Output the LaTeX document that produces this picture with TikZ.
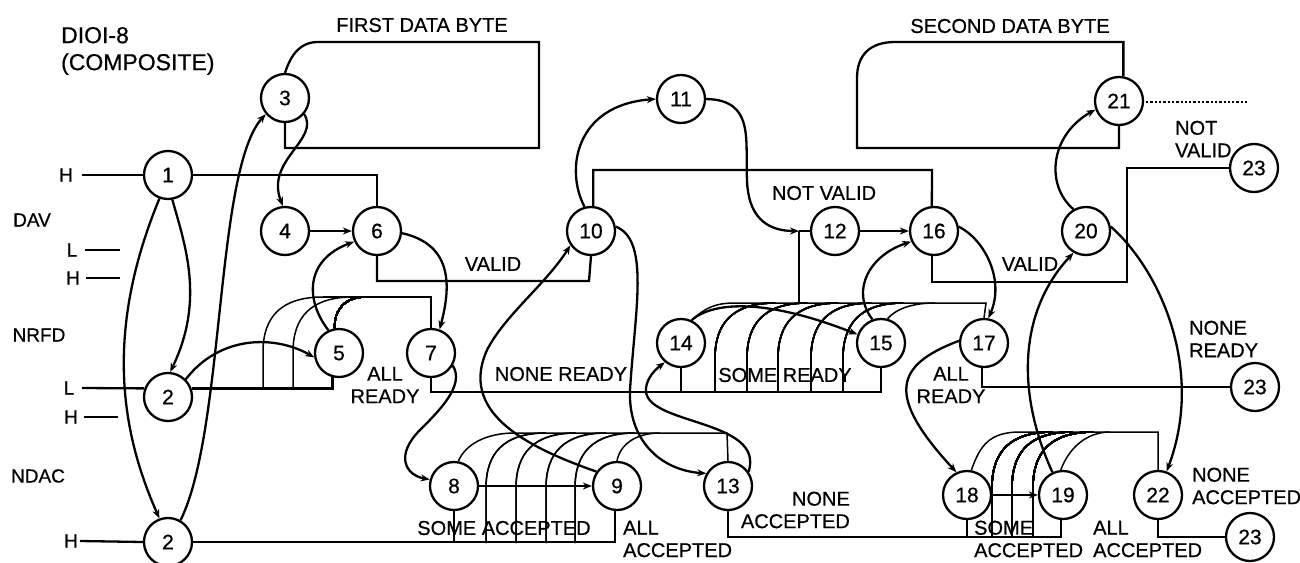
\documentclass[tikz,border=0pt]{standalone}
\usepackage{fontspec}
\setmainfont[RawFeature={embolden=0.6}]{Liberation Sans}
\usetikzlibrary{arrows.meta}

\begin{document}
\begin{tikzpicture}[x=1pt, y=-1pt, line width=2.3pt, >={Stealth[length=9pt,width=7pt]},
      st/.style={draw, circle, fill=white, minimum size=48pt, inner sep=0pt, font=\fontsize{21}{23}\selectfont},
      lbl/.style={inner sep=0pt, align=center, font=\fontsize{20}{22.5}\selectfont},
      lft/.style={lbl, anchor=west, align=left},
      sig/.style={lbl, font=\fontsize{19}{21}\selectfont},
      fan/.style={line width=1.5pt}]

    \useasboundingbox (0,0) rectangle (1300,562);

    % State circles
    \node[st] (s1)  at (168, 175) {1};
    \node[st] (s2)  at (168, 397) {2};
    \node[st] (s2b) at (168, 542) {2};
    \node[st] (s3)  at (285, 98)  {3};
    \node[st] (s4)  at (285, 231) {4};
    \node[st] (s5)  at (339, 353) {5};
    \node[st] (s6)  at (377, 231) {6};
    \node[st] (s7)  at (431, 353) {7};
    \node[st] (s8)  at (454, 486) {8};
    \node[st] (s9)  at (617, 486) {9};
    \node[st] (s10) at (591, 231) {10};
    \node[st] (s11) at (681, 99)  {11};
    \node[st] (s12) at (835, 231) {12};
    \node[st] (s13) at (728, 486) {13};
    \node[st] (s14) at (681, 343) {14};
    \node[st] (s15) at (881, 343) {15};
    \node[st] (s16) at (934, 231) {16};
    \node[st] (s17) at (984, 343) {17};
    \node[st] (s18) at (967, 495) {18};
    \node[st] (s19) at (1063, 495) {19};
    \node[st] (s20) at (1086, 231) {20};
    \node[st] (s21) at (1119, 101) {21};
    \node[st] (s22) at (1158, 495) {22};
    \node[st] (t23a) at (1254, 168) {23};
    \node[st] (t23b) at (1255, 387) {23};
    \node[st] (t23c) at (1250, 537) {23};

    % Bus rows
    \coordinate (rowb) at (0, 392);
    \coordinate (rowd) at (0, 543);
    \coordinate (rowe) at (0, 303);
    \coordinate (rowg) at (0, 537);
    \coordinate (jn12) at (799, 231);

    % Signal levels
    \node[sig] (txdav)  at (32, 220)  {DAV};
    \node[sig] (txnrfd) at (39, 335)  {NRFD};
    \node[sig] (txndac) at (38, 476)  {NDAC};
    \node[sig] (lv1) at (66, 175) {H};
    \node[sig] (lv2) at (72, 250) {L};
    \node[sig] (lv3) at (73, 278) {H};
    \node[sig] (lv4) at (69, 388) {L};
    \node[sig] (lv5) at (71, 417) {H};
    \node[sig] (lv6) at (71, 541) {H};
    \coordinate (lv2e) at (120, 250);
    \coordinate (lv3e) at (120, 278);
    \coordinate (lv5e) at (118, 417);
    \draw (lv1) ++(16,0) -- (s1.west);
    \draw (lv2) ++(13,0) -- (lv2e);
    \draw (lv3) ++(13,0) -- (lv3e);
    \draw (lv4) ++(13,0) -- (s2.160);
    \draw (lv5) ++(13,0) -- (lv5e);
    \draw (lv6) ++(9,0) -- (s2b.west);

    % Signal lines
    \draw (s1.east) -| (s6.north);
    \draw (s3.north) .. controls (290,58) and (298,42) .. (318,42) -- (539,42) -- (539,148) -- (s3.south |- 0,148) -- (s3.south);
    \draw (s6.south) |- (589,281) -- (s10.270);
    \draw (s10.85) |- (932,170) -- (s16.95);
    \draw (s16.265) |- (1127,282) |- (t23a.west);
    \draw (s21.80) |- (895,42) .. controls (870,42) and (857,55) .. (857,78) -- (857,148) -| (s21.270);
    \draw[dotted, line cap=butt] (s21.east) ++(2,1) -- ++(102,0);
    \draw (s17.265) |- (t23b.west);
    \draw (s22.south) |- (t23c.west);
    \draw (s2.20) -| (s5.255);
    \draw (s7.south) |- (s15.south |- rowb) -- (s15.south);
    \draw (s2b.east) -| (s9.265);
    \draw (s13.south) |- (s19.265 |- rowg) -- (s19.265);

    % Fan macro: #1=x, #2=lower row, #3=upper row
    \newcommand{\fanline}[3]{%
        \draw[fan] (#1,#2) -- (#1,#3+55) .. controls (#1,#3+20) and (#1+18,#3) .. (#1+60,#3);
    }
    \foreach \fx in {263,293} \fanline{\fx}{389}{297}
    \foreach \fx in {486,516,546,575} \fanline{\fx}{543}{433}
    \foreach \fx in {715,747,778,811,843} \fanline{\fx}{392}{303}
    \foreach \fx in {992,1012,1033} \fanline{\fx}{537}{432}
    \draw[fan] (s5.100) .. controls (334,310) and (345,297) .. (365,297);
    \draw[fan] (323,297) -- (431,297) -- (s7.north);
    \draw[fan] (s8.80) .. controls (465,445) and (485,433) .. (515,433) -- (727,433) -- (s13.north);
    \draw[fan] (s9.90) .. controls (620,445) and (635,433) .. (660,433);
    \draw[fan] (s14.65) .. controls (705,308) and (715,303) .. (735,303) -- (986,303) -- (s17.north);
    \draw[fan] (s15.75) .. controls (895,310) and (910,303) .. (935,303);
    \draw[fan] (s18.80) .. controls (980,445) and (990,432) .. (1020,432) -- (1158,432) -- (s22.north);
    \draw[fan] (s19.95) .. controls (1068,450) and (1085,432) .. (1110,432);
    \draw[fan] (s14.south) -- (s14.south |- rowb);
    \draw[fan] (s8.south) -- (s8.south |- rowd);
    \draw[fan] (s18.south) -- (s18.south |- rowg);
    \draw[fan] (jn12) -- (jn12 |- rowe);

    % Transitions
    \draw[->] (s1.280) .. controls (185,245) and (205,300) .. (s2.85);
    \draw[->] (s1.250) .. controls (105,330) and (120,430) .. (s2b.110);
    \draw[->] (s2b.60) .. controls (225,430) and (215,170) .. (s3.220);
    \draw[->] (s3.320) .. controls (320,140) and (265,160) .. (s4.95);
    \draw[->] (s4.east) -- (s6.west);
    \draw[->] (s2.45) .. controls (220,335) and (275,335) .. (s5.190);
    \draw[->] (s5.115) .. controls (305,300) and (305,260) .. (s6.205);
    \draw[->] (s6.355) .. controls (455,245) and (450,290) .. (s7.70);
    \draw[->] (s7.330) .. controls (465,385) and (440,410) .. (420,430) .. controls (395,455) and (405,475) .. (s8.165);
    \draw[->] (s8.east) -- (s9.west);
    \draw[->] (s9.145) .. controls (520,445) and (460,410) .. (487,350) .. controls (505,315) and (545,285) .. (s10.215);
    \draw[->] (s10.105) .. controls (565,170) and (575,105) .. (s11.west);
    \draw[->] (s10.10) .. controls (650,240) and (635,310) .. (630,390) .. controls (628,440) and (660,470) .. (s13.150);
    \draw[->] (s11.east) .. controls (755,100) and (745,140) .. (747,180) .. controls (748,215) and (765,231) .. (jn12);
    \draw (jn12) -- (s12.west);
    \draw[->] (s12.east) -- (s16.west);
    \draw[->] (s13.35) .. controls (765,420) and (650,425) .. (646,392) .. controls (645,382) and (652,372) .. (s14.230);
    \draw[->] (s14.65) .. controls (715,300) and (770,300) .. (s15.160);
    \draw[->] (s15.110) .. controls (850,290) and (870,255) .. (s16.205);
    \draw[->] (s16.10) .. controls (985,240) and (1005,280) .. (s17.80);
    \draw[->] (s17.175) .. controls (895,365) and (885,395) .. (s18.115);
    \draw[->] (s18.east) -- (s19.west);
    \draw[->] (s19.115) .. controls (1015,390) and (1020,310) .. (s20.240);
    \draw[->] (s20.120) .. controls (1045,185) and (1050,135) .. (s21.200);
    \draw[->] (s20.10) .. controls (1160,270) and (1205,370) .. (s22.70);

    % Labels
    \node[lft, font=\fontsize{23}{27}\selectfont] (txtitle) at (60, 51) {DIOI-8\\(COMPOSITE)};
    \node[lbl] (txfirst)  at (422, 25)  {FIRST DATA BYTE};
    \node[lbl] (txsecond) at (1010, 26) {SECOND DATA BYTE};
    \node[lbl] (txvalida) at (493, 264) {VALID};
    \node[lbl] (txvalidb) at (1030, 264) {VALID};
    \node[lbl] (txnotv)   at (824, 193) {NOT VALID};
    \node[lft] (txnotvb)  at (1174, 139) {NOT\\VALID};
    \node[lbl] (txallr)   at (385, 385) {ALL\\READY};
    \node[lbl] (txnoner)  at (561, 374) {NONE READY};
    \node[lbl] (txsomer)  at (785, 375) {SOME READY};
    \node[lbl] (txallrb)  at (951, 385) {ALL\\READY};
    \node[lft] (txnonerb) at (1188, 339) {NONE\\READY};
    \node[lft] (txnonea)  at (1191, 486) {NONE\\ACCEPTED};
    \node[anchor=east, lbl, align=right] (txnoneab) at (851, 510) {NONE\\ACCEPTED};
    \node[lbl] (txsomea)  at (504, 528) {SOME ACCEPTED};
    \node[lft] (txalla)   at (622, 539) {ALL\\ACCEPTED};
    \node[lft] (txsomeb)  at (973, 539) {SOME\\ACCEPTED};
    \node[lft] (txallb)   at (1092, 539) {ALL\\ACCEPTED};

\end{tikzpicture}
\end{document}
